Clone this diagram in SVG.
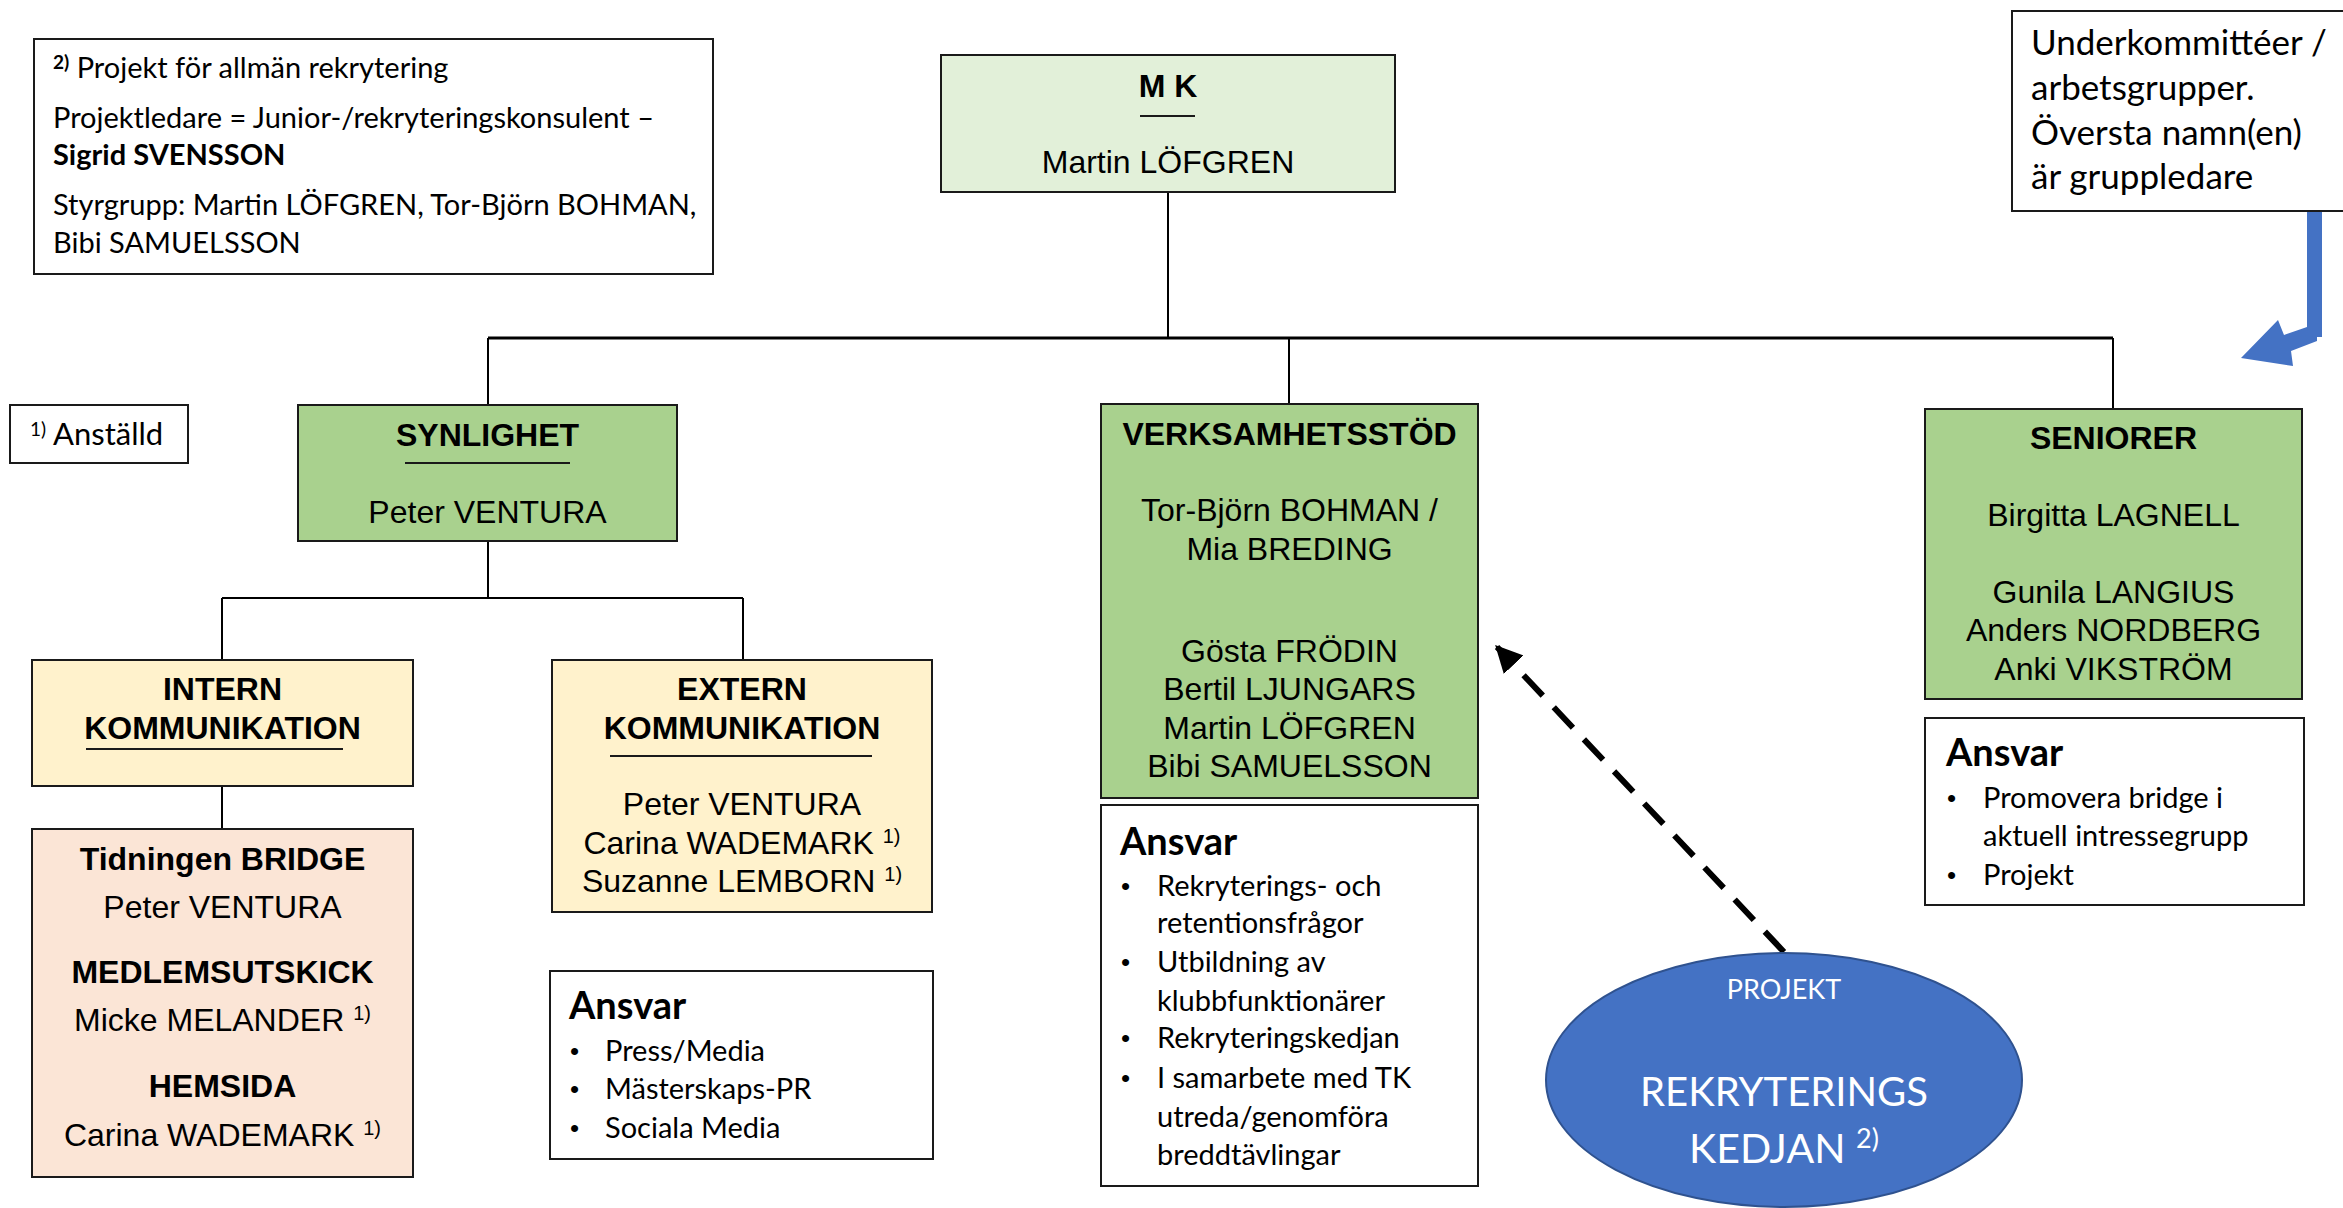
<svg xmlns="http://www.w3.org/2000/svg" width="2343" height="1208" viewBox="0 0 2343 1208">
<defs>
<style>
.box{stroke:#1a1a1a;stroke-width:2}
.mk{fill:#E2F0D9}
.green{fill:#A9D18E}
.yellow{fill:#FFF2CC}
.pink{fill:#FBE5D6}
.white{fill:#FFFFFF}
.ar{font-family:"Liberation Sans",Arial,sans-serif;font-size:32px;fill:#000;text-anchor:middle}
.arb{font-family:"Liberation Sans",Arial,sans-serif;font-size:32px;font-weight:bold;fill:#000;text-anchor:middle}
.sup{font-size:20px}
.cal{font-family:Lato,"Open Sans",sans-serif;font-size:29px;fill:#000}
.big{font-family:Lato,"Open Sans",sans-serif;font-size:35px;fill:#000}
.ansv{font-family:Lato,"Open Sans",sans-serif;font-size:38px;font-weight:bold;fill:#000}
.item{font-family:Lato,"Open Sans",sans-serif;font-size:29px;fill:#000}
.bul{font-family:"Liberation Sans",Arial,sans-serif;font-size:26px;fill:#000}
.ul{stroke:#1a1a1a;stroke-width:2}
.con{stroke:#000;stroke-width:2;fill:none}
</style>
<marker id="ah" viewBox="0 0 10 10" refX="9" refY="5" markerWidth="4.5" markerHeight="4.5" orient="auto" markerUnits="strokeWidth">
<path d="M0,0 L10,5 L0,10 z" fill="#000"/>
</marker>
</defs>
<rect width="2343" height="1208" fill="#FFFFFF"/>

<g id="connectors">
<path class="con" d="M1168,192 V338"/>
<path class="con" d="M488,338 H2113" style="stroke-width:3"/>
<path class="con" d="M488,338 V405"/>
<path class="con" d="M1289,338 V404"/>
<path class="con" d="M2113,338 V409"/>
<path class="con" d="M488,541 V598"/>
<path class="con" d="M222,598 H743"/>
<path class="con" d="M222,598 V660"/>
<path class="con" d="M743,598 V660"/>
<path class="con" d="M222,786 V829"/>
<line x1="1784" y1="952" x2="1497" y2="647" stroke="#000" stroke-width="6" stroke-dasharray="28 16" marker-end="url(#ah)"/>
<polygon points="2307,211 2322,211 2322,337 2317,337 2317,341 2291,351 2293,366 2241,358 2278,320 2284,335 2307,327" fill="#4472C4"/>
</g>

<g id="note">
<rect class="box white" x="34" y="39" width="679" height="235"/>
<text class="cal" x="53" y="78"><tspan font-weight="bold" font-size="19" dy="-9">2)</tspan><tspan dy="9"> Projekt för allmän rekrytering</tspan></text>
<text class="cal" x="53" y="128">Projektledare = Junior-/rekryteringskonsulent –</text>
<text class="cal" x="53" y="165" font-weight="bold">Sigrid SVENSSON</text>
<text class="cal" x="53" y="215">Styrgrupp: Martin LÖFGREN, Tor-Björn BOHMAN,</text>
<text class="cal" x="53" y="253">Bibi SAMUELSSON</text>
</g>

<g id="anstalld">
<rect class="box white" x="10" y="405" width="178" height="58"/>
<text class="cal" x="30" y="445"><tspan font-size="19" dy="-9">1)</tspan><tspan dy="9" font-size="31"> Anställd</tspan></text>
</g>

<g id="underkommitteer">
<rect class="box white" x="2012" y="11" width="345" height="200"/>
<text class="big" x="2031" y="55">Underkommittéer /</text>
<text class="big" x="2031" y="100">arbetsgrupper.</text>
<text class="big" x="2031" y="145">Översta namn(en)</text>
<text class="big" x="2031" y="189">är gruppledare</text>
</g>

<g id="mk">
<rect class="box mk" x="941" y="55" width="454" height="137"/>
<text class="arb" x="1168" y="97">M K</text>
<line class="ul" x1="1140" y1="116" x2="1195" y2="116"/>
<text class="ar" x="1168" y="173">Martin LÖFGREN</text>
</g>

<g id="synlighet">
<rect class="box green" x="298" y="405" width="379" height="136"/>
<text class="arb" x="487.5" y="446">SYNLIGHET</text>
<line class="ul" x1="405" y1="463" x2="570" y2="463"/>
<text class="ar" x="487.5" y="523">Peter VENTURA</text>
</g>

<g id="intern">
<rect class="box yellow" x="32" y="660" width="381" height="126"/>
<text class="arb" x="222.5" y="700">INTERN</text>
<text class="arb" x="222.5" y="739">KOMMUNIKATION</text>
<line class="ul" x1="86" y1="749" x2="343" y2="749"/>
</g>

<g id="extern">
<rect class="box yellow" x="552" y="660" width="380" height="252"/>
<text class="arb" x="742" y="700">EXTERN</text>
<text class="arb" x="742" y="739">KOMMUNIKATION</text>
<line class="ul" x1="610" y1="756" x2="872" y2="756"/>
<text class="ar" x="742" y="815">Peter VENTURA</text>
<text class="ar" x="742" y="854">Carina WADEMARK <tspan class="sup" dy="-11">1)</tspan></text>
<text class="ar" x="742" y="892">Suzanne LEMBORN <tspan class="sup" dy="-11">1)</tspan></text>
</g>

<g id="tidningen">
<rect class="box pink" x="32" y="829" width="381" height="348"/>
<text class="arb" x="222.5" y="870">Tidningen BRIDGE</text>
<text class="ar" x="222.5" y="918">Peter VENTURA</text>
<text class="arb" x="222.5" y="983">MEDLEMSUTSKICK</text>
<text class="ar" x="222.5" y="1031">Micke MELANDER <tspan class="sup" dy="-11">1)</tspan></text>
<text class="arb" x="222.5" y="1097">HEMSIDA</text>
<text class="ar" x="222.5" y="1146">Carina WADEMARK <tspan class="sup" dy="-11">1)</tspan></text>
</g>

<g id="ansvar-extern">
<rect class="box white" x="550" y="971" width="383" height="188"/>
<text class="ansv" x="569" y="1019">Ansvar</text>
<text class="bul" x="570" y="1060">•</text>
<text class="item" x="605" y="1061">Press/Media</text>
<text class="bul" x="570" y="1098">•</text>
<text class="item" x="605" y="1099">Mästerskaps-PR</text>
<text class="bul" x="570" y="1137">•</text>
<text class="item" x="605" y="1138">Sociala Media</text>
</g>

<g id="verksamhetsstod">
<rect class="box green" x="1101" y="404" width="377" height="394"/>
<text class="arb" x="1289.5" y="445">VERKSAMHETSSTÖD</text>
<text class="ar" x="1289.5" y="521">Tor-Björn BOHMAN /</text>
<text class="ar" x="1289.5" y="560">Mia BREDING</text>
<text class="ar" x="1289.5" y="662">Gösta FRÖDIN</text>
<text class="ar" x="1289.5" y="700">Bertil LJUNGARS</text>
<text class="ar" x="1289.5" y="739">Martin LÖFGREN</text>
<text class="ar" x="1289.5" y="777">Bibi SAMUELSSON</text>
</g>

<g id="ansvar-verksamhetsstod">
<rect class="box white" x="1101" y="805" width="377" height="381"/>
<text class="ansv" x="1120" y="855">Ansvar</text>
<text class="bul" x="1121" y="895">•</text>
<text class="item" x="1157" y="896">Rekryterings- och</text>
<text class="item" x="1157" y="933">retentionsfrågor</text>
<text class="bul" x="1121" y="971">•</text>
<text class="item" x="1157" y="972">Utbildning av</text>
<text class="item" x="1157" y="1011">klubbfunktionärer</text>
<text class="bul" x="1121" y="1047">•</text>
<text class="item" x="1157" y="1048">Rekryteringskedjan</text>
<text class="bul" x="1121" y="1087">•</text>
<text class="item" x="1157" y="1088">I samarbete med TK</text>
<text class="item" x="1157" y="1127">utreda/genomföra</text>
<text class="item" x="1157" y="1165">breddtävlingar</text>
</g>

<g id="seniorer">
<rect class="box green" x="1925" y="409" width="377" height="290"/>
<text class="arb" x="2113.5" y="449">SENIORER</text>
<text class="ar" x="2113.5" y="526">Birgitta LAGNELL</text>
<text class="ar" x="2113.5" y="603">Gunila LANGIUS</text>
<text class="ar" x="2113.5" y="641">Anders NORDBERG</text>
<text class="ar" x="2113.5" y="680">Anki VIKSTRÖM</text>
</g>

<g id="ansvar-seniorer">
<rect class="box white" x="1925" y="718" width="379" height="187"/>
<text class="ansv" x="1946" y="766">Ansvar</text>
<text class="bul" x="1947" y="807">•</text>
<text class="item" x="1983" y="808">Promovera bridge i</text>
<text class="item" x="1983" y="846">aktuell intressegrupp</text>
<text class="bul" x="1947" y="884">•</text>
<text class="item" x="1983" y="885">Projekt</text>
</g>

<g id="projekt">
<ellipse cx="1784" cy="1080" rx="238" ry="127" fill="#4472C4" stroke="#2F528F" stroke-width="2"/>
<text x="1784" y="999" font-family="Lato,'Open Sans',sans-serif" font-size="27" fill="#FFFFFF" text-anchor="middle">PROJEKT</text>
<text x="1784" y="1106" font-family="Lato,'Open Sans',sans-serif" font-size="40" fill="#FFFFFF" text-anchor="middle">REKRYTERINGS</text>
<text x="1784" y="1163" font-family="Lato,'Open Sans',sans-serif" font-size="41" fill="#FFFFFF" text-anchor="middle">KEDJAN <tspan font-size="27" dy="-15">2)</tspan></text>
</g>
</svg>
